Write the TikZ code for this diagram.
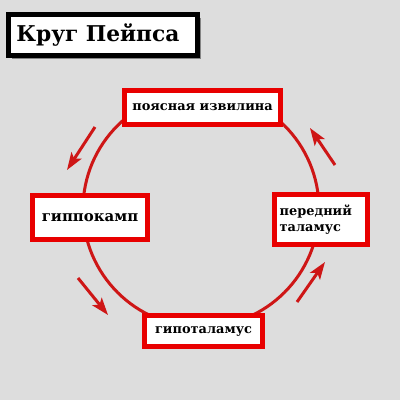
\documentclass[tikz,border=0pt]{standalone}
\usepackage{fontspec}
\setmainfont{DejaVu Serif}
\usetikzlibrary{arrows.meta,shadows}
\definecolor{boxred}{RGB}{232,0,0}
\definecolor{ringred}{RGB}{206,22,22}
\definecolor{bggray}{RGB}{221,221,221}
\tikzset{every picture/.style={line width=0.75pt}}
\tikzset{
  redbox/.style={draw=boxred, line width=4pt, fill=white, inner sep=0pt,
    font=\bfseries\fontsize{9.7}{12}\selectfont,
    drop shadow={shadow xshift=2pt, shadow yshift=-2pt, fill=black, opacity=0.3}},
  titlebox/.style={draw=black, line width=3.75pt, fill=white, inner sep=0pt,
    font=\bfseries\fontsize{16.3}{19}\selectfont,
    drop shadow={shadow xshift=2.5pt, shadow yshift=-2.5pt, fill=black, opacity=0.4}},
  flowarrow/.style={draw=ringred, line width=2.25pt, -{Stealth[length=13pt,width=9pt,inset=3pt]}}
}

\begin{document}
\begin{tikzpicture}[x=0.75pt,y=0.75pt,yscale=-1,xscale=1]
    %Background
    \fill [bggray] (0,0) rectangle (400,400);

    %Shape: Circle
    \draw [ringred, line width=2.25pt] (201,209) circle [radius=118];

    % Title Node
    \node [titlebox, minimum width=141.75pt, minimum height=30.75pt, text width=130pt, align=left] (title) at (103,35) {Круг Пейпса};

    % Text Node
    \node [redbox, minimum width=117pt, minimum height=25.5pt] (cingulum) at (202.5,107.5) {поясная извилина};
    % Text Node
    \node [redbox, minimum width=86.25pt, minimum height=33pt, font=\bfseries\fontsize{11.2}{13}\selectfont] (hippo) at (90,217.5) {гиппокамп};
    % Text Node
    \node [redbox, minimum width=69.75pt, minimum height=37.5pt, text width=62pt, align=left] (thalamus) at (321,219.5) {передний\\таламус};
    % Text Node
    \node [redbox, minimum width=88.5pt, minimum height=23.25pt] (hypo) at (203.5,331) {гипоталамус};

    %Straight Lines
    \coordinate (a1s) at (95,127);  \coordinate (a1e) at (67,170);
    \coordinate (a2s) at (335,165); \coordinate (a2e) at (310,128);
    \coordinate (a3s) at (297,302); \coordinate (a3e) at (325,262);
    \coordinate (a4s) at (78,278);  \coordinate (a4e) at (108,315);
    \draw [flowarrow] (a1s) -- (a1e);
    \draw [flowarrow] (a2s) -- (a2e);
    \draw [flowarrow] (a3s) -- (a3e);
    \draw [flowarrow] (a4s) -- (a4e);
\end{tikzpicture}
\end{document}
